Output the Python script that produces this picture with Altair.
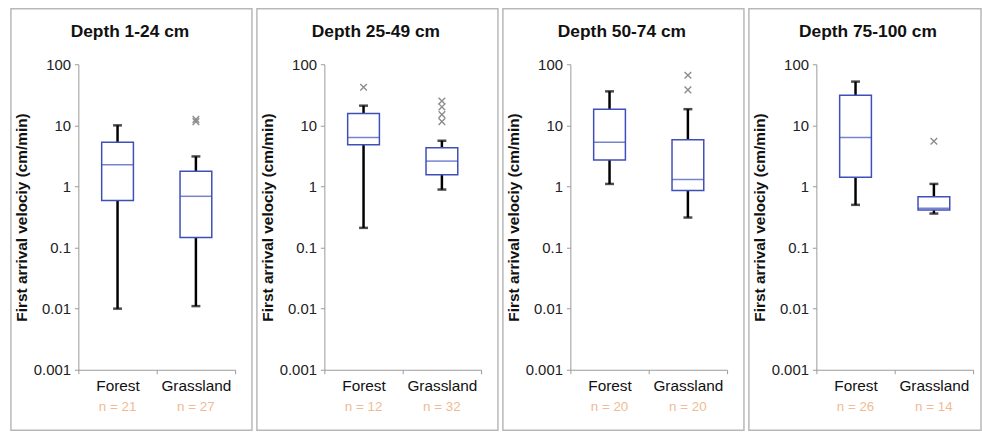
import altair as alt
import pandas as pd

# Four depth classes, two land uses each; velocities in cm/min
depths = ["Depth 1-24 cm", "Depth 25-49 cm", "Depth 50-74 cm", "Depth 75-100 cm"]
categories = ["Forest", "Grassland"]

whisker_low = [[0.01, 0.011], [0.21, 0.89], [1.1, 0.31], [0.5, 0.36]]
quartile_1 = [[0.59, 0.146], [4.8, 1.56], [2.7, 0.86], [1.41, 0.41]]
medians = [[2.26, 0.69], [6.3, 2.6], [5.3, 1.3], [6.3, 0.44]]
quartile_3 = [[5.3, 1.77], [15.6, 4.3], [18.4, 5.8], [31.0, 0.68]]
whisker_high = [[10.0, 3.1], [21.0, 5.6], [36.0, 18.4], [52.0, 1.1]]
outliers = [
    [[], [11.5, 12.5]],
    [[42.0], [11.5, 15.0, 20.0, 25.0]],
    [[], [38.0, 66.0]],
    [[], [5.5]],
]
sample_n = [[21, 27], [12, 32], [20, 20], [26, 14]]

y_ticks = [0.001, 0.01, 0.1, 1, 10, 100]
y_title = "First arrival velociy (cm/min)"

FONT = "Liberation Sans"
BOX_BLUE = "#3f4fb8"
PANEL_H = 425
PANEL_W = [243, 243, 243, 234]


def panel(i, width):
    stats = pd.DataFrame({
        "cat": categories,
        "lo": whisker_low[i],
        "q1": quartile_1[i],
        "med": medians[i],
        "q3": quartile_3[i],
        "hi": whisker_high[i],
        "nlabel": [f"n = {n}" for n in sample_n[i]],
    })
    pts = pd.DataFrame(
        [{"cat": c, "v": v} for c, vals in zip(categories, outliers[i]) for v in vals]
    )

    x_scale = alt.Scale(domain=categories, range=[68, 226], paddingInner=0, paddingOuter=0)
    x_axis = alt.Axis(
        orient="bottom", offset=-61, tickBand="extent", tickSize=4,
        tickColor="#9a9a9a", domainColor="#9a9a9a", labelAngle=0, labelPadding=5,
        labelFont=FONT, labelFontSize=15.5, labelColor="#111111", grid=False,
    )
    y_scale = alt.Scale(type="log", domain=[0.001, 100], range=[364, 56], nice=False)
    y_axis = alt.Axis(
        values=y_ticks, format="~g", offset=-68, grid=False, tickSize=4,
        tickColor="#9a9a9a", domainColor="#9a9a9a", labelPadding=4,
        labelFont=FONT, labelFontSize=15, labelColor="#222222",
        titleFont=FONT, titleFontSize=15.5, titleFontWeight="bold", titleColor="#111111",
        titleX=-57, titleBaseline="middle",
    )

    def X():
        return alt.X("cat:N", scale=x_scale, axis=x_axis, title=None)

    def Y(field):
        return alt.Y(f"{field}:Q", scale=y_scale, axis=y_axis, title=y_title)

    base = alt.Chart(stats)

    whisker = base.mark_rule(color="black", strokeWidth=2.5).encode(
        x=X(), y=Y("lo"), y2="hi:Q"
    )
    cap_lo = base.mark_tick(color="black", thickness=2.5, size=9, orient="horizontal").encode(
        x=X(), y=Y("lo")
    )
    cap_hi = base.mark_tick(color="black", thickness=2.5, size=9, orient="horizontal").encode(
        x=X(), y=Y("hi")
    )
    box = base.mark_bar(size=32, fill="white", stroke=BOX_BLUE, strokeWidth=1.5).encode(
        x=X(), y=Y("q1"), y2="q3:Q"
    )
    median = base.mark_tick(color=BOX_BLUE, thickness=1.5, size=32, orient="horizontal").encode(
        x=X(), y=Y("med")
    )
    fliers = alt.Chart(pts).mark_point(
        shape="M-1,-1L1,1M-1,1L1,-1", size=45, strokeWidth=1.4,
        color="#8c8c8c", filled=False, opacity=1,
    ).encode(x=X(), y=Y("v"))
    n_text = base.mark_text(
        font=FONT, fontSize=13.5, color="#f0bb94", baseline="middle"
    ).encode(x=X(), y=alt.value(402), text="nlabel:N")
    heading = alt.Chart(pd.DataFrame({"t": [depths[i]]})).mark_text(
        font=FONT, fontSize=17.5, fontWeight="bold", color="#111111", baseline="middle"
    ).encode(x=alt.value(120), y=alt.value(24), text="t:N")

    return alt.layer(
        whisker, cap_lo, cap_hi, box, median, fliers, n_text, heading
    ).properties(width=width, height=PANEL_H)


chart = alt.hconcat(
    *[panel(i, w) for i, w in enumerate(PANEL_W)], spacing=3
).properties(
    padding={"left": 10, "top": 6, "right": 0, "bottom": 2},
    background="white",
).configure_view(stroke="#b8b8b8", strokeWidth=1.5)

chart.save("out.html", embed_options={"renderer": "svg", "actions": False})
